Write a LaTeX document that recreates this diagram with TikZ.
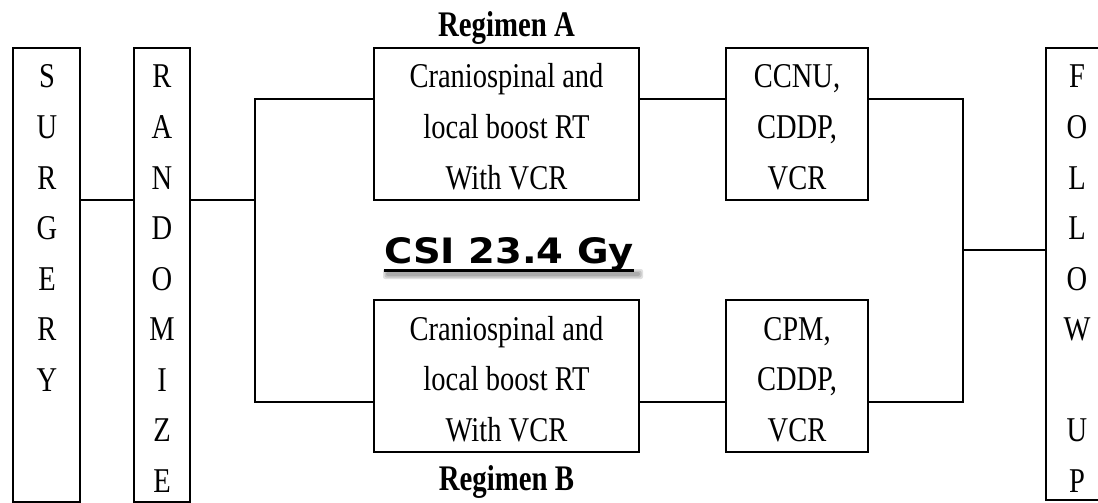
\documentclass[tikz,border=0pt]{standalone}
\usepackage{fontspec}
\setmainfont{Liberation Serif}
\newfontfamily\csifont{DejaVu Sans}
\newcommand\tallt[1]{\scalebox{1}[1.22]{#1}}
\tikzset{
  box/.style={draw, line width=2pt, rectangle, inner sep=0pt},
  txt/.style={anchor=base, inner sep=0pt, font=\fontsize{28.5}{41.4}\selectfont},
  lbl/.style={anchor=base, inner sep=0pt, font=\fontsize{28.8}{36}\selectfont\bfseries},
  conn/.style={line width=2pt},
}
\begin{document}
\begin{tikzpicture}[x=1pt,y=-1pt]
\useasboundingbox (0,0) rectangle (1098,503);
\clip (0,0) rectangle (1098,503);
\fill[white] (0,0) rectangle (1098,503);

% vertical boxes
\node[box, minimum width=67pt, minimum height=453.5pt] (surg) at (46.5,274.75) {};
\node[box, minimum width=56pt, minimum height=453.5pt] (rand) at (162,274.75) {};
\node[box, minimum width=64pt, minimum height=452pt] (fol) at (1078,274) {};

\node[txt] (surgt) at (47,88) {\tallt{\begin{tabular}[t]{@{}c@{}}S\\U\\R\\G\\E\\R\\Y\end{tabular}}};
\node[txt] (randt) at (162,88) {\tallt{\begin{tabular}[t]{@{}c@{}}R\\A\\N\\D\\O\\M\\I\\Z\\E\end{tabular}}};
\node[txt] (folt) at (1077,88) {\tallt{\begin{tabular}[t]{@{}c@{}}F\\O\\L\\L\\O\\W\\ \\U\\P\end{tabular}}};

% regimen boxes
\node[box, minimum width=265pt, minimum height=152pt] (rega) at (506.5,124) {};
\node[box, minimum width=265pt, minimum height=152pt] (regb) at (506.5,376) {};
\node[box, minimum width=142pt, minimum height=152pt] (cha) at (797,124) {};
\node[box, minimum width=142pt, minimum height=152pt] (chb) at (797,376) {};

\node[txt] (regat) at (506.5,88) {\tallt{\begin{tabular}[t]{@{}c@{}}Craniospinal and\\local boost RT\\With VCR\end{tabular}}};
\node[txt] (regbt) at (506.5,340) {\tallt{\begin{tabular}[t]{@{}c@{}}Craniospinal and\\local boost RT\\With VCR\end{tabular}}};
\node[txt] (chat) at (797,88) {\tallt{\begin{tabular}[t]{@{}c@{}}CCNU,\\CDDP,\\VCR\end{tabular}}};
\node[txt] (chbt) at (797,340) {\tallt{\begin{tabular}[t]{@{}c@{}}CPM,\\CDDP,\\VCR\end{tabular}}};

\node[lbl] (laba) at (506.5,37) {\scalebox{1}[1.25]{Regimen A}};
\node[lbl] (labb) at (506.5,490) {\scalebox{1}[1.25]{Regimen B}};

% junctions
\coordinate (j1) at (255,200);
\coordinate (ja) at (255,99);
\coordinate (jb) at (255,402);
\coordinate (ka) at (963,99);
\coordinate (kb) at (963,402);
\coordinate (k1) at (963,250);

\draw[conn] (surg.east |- j1) -- (rand.west |- j1);
\draw[conn] (rand.east |- j1) -- (j1);
\draw[conn] (rega.west |- ja) -- (ja) -- (jb) -- (regb.west |- jb);
\draw[conn] (rega.east |- ja) -- (cha.west |- ja);
\draw[conn] (regb.east |- jb) -- (chb.west |- jb);
\draw[conn] (cha.east |- ka) -- (ka) -- (kb) -- (chb.east |- kb);
\draw[conn] (k1) -- (fol.west |- k1);

% CSI label with soft shadow
\foreach \d/\o in {0/0.12,1.5/0.12,3/0.12}{
  \fill[black, opacity=\o, rounded corners=2pt] (386-\d,272-\d) rectangle (640+\d,276+\d);
}
\node[anchor=base, inner sep=0pt, font=\csifont\bfseries\fontsize{35}{40}\selectfont] (csi) at (509,263.5) {\scalebox{1.1}[1]{CSI 23.4 Gy}};
\draw[line width=3pt] (csi.base west |- 0,270) -- (csi.base east |- 0,270);
\end{tikzpicture}
\end{document}
